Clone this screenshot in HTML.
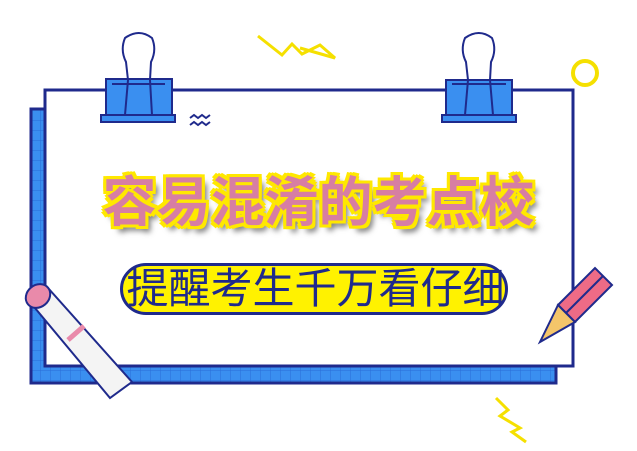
<!DOCTYPE html>
<html><head><meta charset="utf-8"><style>
html,body{margin:0;padding:0;background:#fff;}
.w{position:relative;width:637px;height:451px;overflow:hidden;font-family:"Liberation Sans","Noto Sans CJK SC",sans-serif;}
.t{position:absolute;left:0;width:637px;text-align:center;}
</style></head><body><div class="w">
<svg width="637" height="451" style="position:absolute;left:0;top:0">
<defs><pattern id="g" width="10" height="10" patternUnits="userSpaceOnUse"><rect width="10" height="10" fill="#3a8ff0"/><path d="M0 0H10M0 0V10" stroke="#2a6ed8" stroke-width="1"/></pattern></defs>
<rect x="31" y="109" width="525" height="274" fill="url(#g)" stroke="#1f2a8c" stroke-width="3"/>
<rect x="45" y="90" width="528" height="276" fill="#fff" stroke="#1f2a8c" stroke-width="3"/>
<g stroke="#1f2a8c" stroke-width="2" fill="#3a8ff0">
<rect x="106" y="79" width="66" height="36"/><rect x="101" y="115" width="74" height="7"/>
<path d="M125 115 L128 80 L126 62 Q120 50 125 38 Q139 28 152 38 Q157 50 151 62 L150 80 L152 115" fill="none"/>
<line x1="112" y1="84" x2="165" y2="84"/>
<rect x="446" y="80" width="66" height="35"/><rect x="442" y="115" width="74" height="7"/>
<path d="M465 115 L468 80 L466 62 Q460 50 465 38 Q479 28 492 38 Q497 50 491 62 L490 80 L493 115" fill="none"/>
<line x1="452" y1="84" x2="506" y2="84"/>
</g>
<path d="M190 118l4-3 4 3 4-3 4 3 4-3M190 125l4-3 4 3 4-3 4 3 4-3" stroke="#1f2a8c" stroke-width="2" fill="none"/>
<path d="M258 36 L282 55 L292 44 L302 54 L320 45 L335 58 L300 48" stroke="#f5e000" stroke-width="3" fill="none"/>
<circle cx="585" cy="73" r="12" stroke="#f5e000" stroke-width="4" fill="none"/>
<path d="M496 398 L508 410 L500 416 L520 428 L512 432 L526 442" stroke="#f5e000" stroke-width="3" fill="none"/>
<!-- scroll -->
<g stroke="#1f2a8c" stroke-width="2">
<path d="M30 302 L48 288 L132 382 L110 398 Z" fill="#f4f4f4"/>
<ellipse cx="38" cy="296" rx="13" ry="11" fill="#e98aaa" transform="rotate(-40 38 296)"/>
<path d="M68 340 L84 326" stroke="#e98aaa" stroke-width="5"/>
</g>
<g stroke="#1f2a8c" stroke-width="2">
<path d="M558 305 L595 268 L612 285 L575 322 Z" fill="#ee6b86"/>
<path d="M558 305 L540 342 L575 322 Z" fill="#f4c56a"/>
<path d="M566 313 L603 276"/>
</g>
</svg>
<div class="t" style="top:170px;font-size:54px;line-height:66px;font-weight:bold;color:#d77ea3;text-shadow:0 0 3px #ffe800,3px 3px 0 #ffe800,-3px -3px 0 #ffe800,3px -3px 0 #ffe800,-3px 3px 0 #ffe800,0 3px 0 #ffe800,0 -3px 0 #ffe800,3px 0 0 #ffe800,-3px 0 0 #ffe800,5px 6px 6px #777;">容易混淆的考点校</div>
<div style="position:absolute;left:120px;top:263px;width:388px;height:52px;border:3px solid #1f2a8c;border-radius:26px;background:#fff200;box-sizing:border-box;"></div>
<div class="t" style="top:263px;left:-3px;font-size:42px;line-height:52px;color:#1f2a8c;">提醒考生千万看仔细</div>
</div></body></html>
